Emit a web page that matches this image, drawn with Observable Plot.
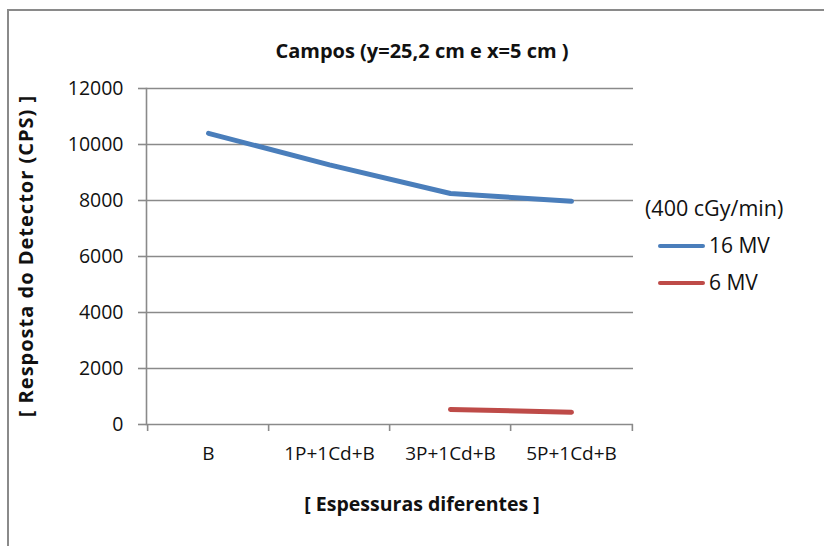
<!DOCTYPE html>
<html>
<head>
<meta charset="utf-8">
<script src="https://cdn.jsdelivr.net/npm/d3@7"></script>
<script src="https://cdn.jsdelivr.net/npm/@observablehq/plot@0.6"></script>
<style>
  body { margin: 0; background: #fff; }
  #chart { position: relative; width: 824px; height: 546px; overflow: hidden; background: #fff;
           font-family: "Open Sans", "Noto Sans", sans-serif; color: #111; }
  #box { position: absolute; left: 7px; top: 9px; width: 900px; height: 600px;
         border-left: 2px solid #8a8a8a; border-top: 2px solid #8a8a8a; }
  #plot { position: absolute; left: 0; top: 0; }
  .t { position: absolute; white-space: nowrap; line-height: 1; }
  .title { font-weight: bold; font-size: 20px; }
  .legend-title { font-size: 21.5px; }
  .legend-item { font-size: 21px; }
  .swatch { position: absolute; height: 4px; width: 47px; border-radius: 2px; }
</style>
</head>
<body>
<div id="chart">
  <div id="box"></div>
  <div id="plot"></div>
</div>
<script>
// Detector response (CPS) for each absorber stack, two beam energies at 400 cGy/min
const categories = ["B", "1P+1Cd+B", "3P+1Cd+B", "5P+1Cd+B"];
const seriesNames = ["16 MV", "6 MV"];
const seriesColors = ["#4a7ebb", "#be4b48"];
const values16MV = [10400, 9270, 8250, 7970];
const values6MV = [null, null, 540, 440];
const yTicks = [0, 2000, 4000, 6000, 8000, 10000, 12000];

const chartTitle = "Campos (y=25,2 cm e x=5 cm )";
const xTitle = "[ Espessuras diferentes ]";
const yTitle = "[ Resposta do Detector (CPS) ]";
const legendTitle = "(400 cGy/min)";

const rows = [];
[values16MV, values6MV].forEach((vals, s) => {
  categories.forEach((c, i) => rows.push({series: seriesNames[s], category: c, value: vals[i]}));
});

const W = 824, H = 546;
const margin = {left: 146, right: 191, top: 88, bottom: 122};
const step = (W - margin.left - margin.right) / categories.length;
const axisGray = "#8a8a8a";

const plot = Plot.plot({
  width: W,
  height: H,
  marginLeft: margin.left,
  marginRight: margin.right,
  marginTop: margin.top,
  marginBottom: margin.bottom,
  style: {fontFamily: '"Open Sans", "Noto Sans", sans-serif', color: "#111", background: "transparent", overflow: "visible"},
  x: {type: "point", domain: categories, padding: 0.5, axis: null},
  y: {domain: [0, 12000], axis: null},
  color: {domain: seriesNames, range: seriesColors},
  marks: [
    Plot.gridY(yTicks, {stroke: axisGray, strokeOpacity: 1, strokeWidth: 1.6}),
    Plot.frame({anchor: "left", stroke: axisGray, strokeWidth: 1.6}),
    Plot.axisY(yTicks, {anchor: "left", tickSize: 8, tickPadding: 15, fontSize: 19.5,
                        stroke: axisGray, strokeWidth: 1.6, fill: "#111", label: null, tickFormat: d => String(d)}),
    Plot.axisX({anchor: "bottom", tickSize: 0, tickPadding: 22, fontSize: 19, fill: "#111", label: null}),
    // category boundary ticks below the baseline
    Plot.ruleX(categories, {x: d => d, dx: -step / 2, y1: 0, y2: 0, insetBottom: -7, stroke: axisGray, strokeWidth: 1.6}),
    Plot.ruleX(categories.slice(-1), {x: d => d, dx: step / 2, y1: 0, y2: 0, insetBottom: -7, stroke: axisGray, strokeWidth: 1.6}),
    Plot.line(rows, {x: "category", y: "value", z: "series", stroke: "series",
                     strokeWidth: 5, strokeLinecap: "round", strokeLinejoin: "round"})
  ]
});
document.getElementById("plot").append(plot);

// Titles and legend
const chart = document.getElementById("chart");
function addText(text, cls, css) {
  const d = document.createElement("div");
  d.className = "t " + cls;
  d.textContent = text;
  Object.assign(d.style, css);
  chart.append(d);
  return d;
}
addText(chartTitle, "title", {left: "422px", top: "41px", transform: "translateX(-50%)"});
addText(xTitle, "title", {left: "422px", top: "494px", fontSize: "19.5px", transform: "translateX(-50%)"});
addText(yTitle, "title", {left: "26px", top: "256px", letterSpacing: "1px", transform: "translate(-50%, -50%) rotate(-90deg)"});
addText(legendTitle, "legend-title", {left: "645px", top: "197px"});
seriesNames.forEach((name, i) => {
  const cy = 246 + i * 37;
  const sw = document.createElement("div");
  sw.className = "swatch";
  Object.assign(sw.style, {left: "658px", top: (cy - 2) + "px", background: seriesColors[i]});
  chart.append(sw);
  addText(name, "legend-item", {left: "709px", top: (cy - 11) + "px"});
});
</script>
</body>
</html>
